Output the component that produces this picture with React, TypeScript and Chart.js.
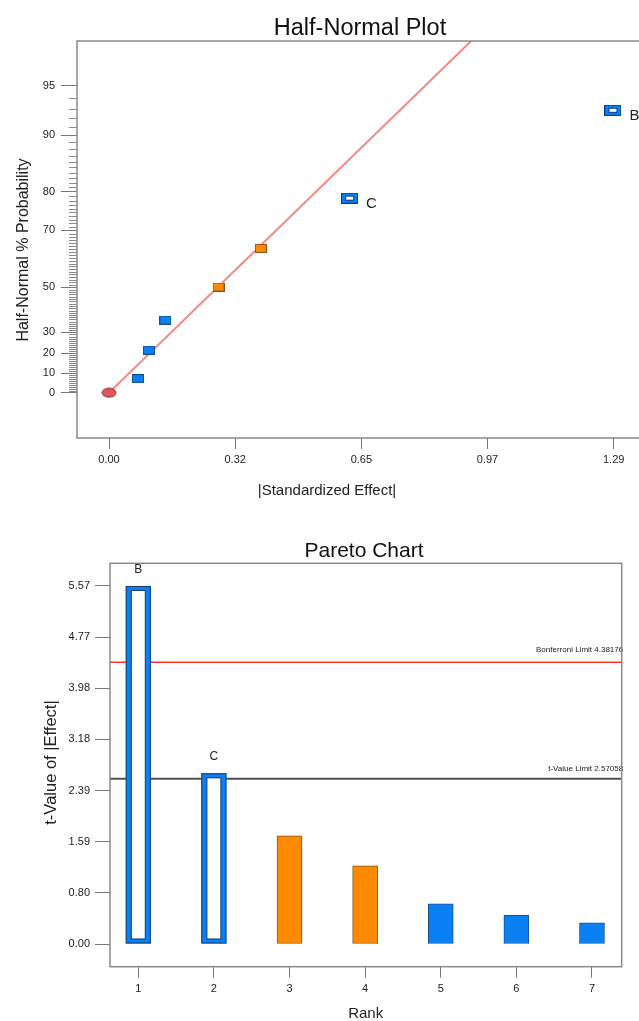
import React, { useEffect, useRef } from "react";
import { Chart, registerables } from "chart.js";

Chart.register(...registerables);

const FONT = '"Liberation Sans", Arial, Helvetica, sans-serif';

// ---------- Half-Normal plot data ----------
const EFFECTS = [0.074, 0.102, 0.144, 0.28, 0.388, 0.615, 1.288];
const PROBS = [7.14, 21.43, 35.71, 50.0, 64.29, 78.57, 92.86];
const EFFECT_TYPES = ["neg", "neg", "neg", "pos", "pos", "sel", "sel"];
const EFFECT_LABELS = ["", "", "", "", "", "C", "B"];
const ORIGIN_EFFECT = [0];
const ORIGIN_PROB = [0];
const FIT_LINE_X = [0, 0.95];
const FIT_LINE_Z = [0, 2.304];
const HN_X_TICKS = [0, 0.3225, 0.645, 0.9675, 1.29];
const HN_X_LABELS = ["0.00", "0.32", "0.65", "0.97", "1.29"];
const HN_Y_TICKS = [0, 10, 20, 30, 50, 70, 80, 90, 95];
const HN_Y_MINOR_MAX = 94;

// ---------- Pareto chart data ----------
const RANKS = [1, 2, 3, 4, 5, 6, 7];
const T_VALUES = [5.57, 2.655, 1.684, 1.218, 0.627, 0.446, 0.331];
const BAR_TYPES = ["sel", "sel", "pos", "pos", "neg", "neg", "neg"];
const BAR_LABELS = ["B", "C", "", "", "", "", ""];
const PARETO_Y_TICKS = [0, 0.7957, 1.5914, 2.3871, 3.1829, 3.9786, 4.7743, 5.57];
const PARETO_Y_LABELS = ["0.00", "0.80", "1.59", "2.39", "3.18", "3.98", "4.77", "5.57"];
const BONFERRONI = 4.38176;
const T_LIMIT = 2.57058;

const BLUE = "#0a80f5";
const BLUE_EDGE = "#1c4d8c";
const ORANGE = "#ff8a00";
const ORANGE_EDGE = "#8a5418";

function invNorm(p: number): number {
  const a = [-3.969683028665376e1, 2.209460984245205e2, -2.759285104469687e2, 1.38357751867269e2, -3.066479806614716e1, 2.506628277459239];
  const b = [-5.447609879822406e1, 1.615858368580409e2, -1.556989798598866e2, 6.680131188771972e1, -1.328068155288572e1];
  const c = [-7.784894002430293e-3, -3.223964580411365e-1, -2.400758277161838, -2.549732539343734, 4.374664141464968, 2.938163982698783];
  const d = [7.784695709041462e-3, 3.224671290700398e-1, 2.445134137142996, 3.754408661907416];
  const plow = 0.02425;
  if (p < plow) {
    const q = Math.sqrt(-2 * Math.log(p));
    return (((((c[0] * q + c[1]) * q + c[2]) * q + c[3]) * q + c[4]) * q + c[5]) / ((((d[0] * q + d[1]) * q + d[2]) * q + d[3]) * q + 1);
  }
  if (p <= 1 - plow) {
    const q = p - 0.5;
    const r = q * q;
    return ((((((a[0] * r + a[1]) * r + a[2]) * r + a[3]) * r + a[4]) * r + a[5]) * q) / (((((b[0] * r + b[1]) * r + b[2]) * r + b[3]) * r + b[4]) * r + 1);
  }
  const q = Math.sqrt(-2 * Math.log(1 - p));
  return -(((((c[0] * q + c[1]) * q + c[2]) * q + c[3]) * q + c[4]) * q + c[5]) / ((((d[0] * q + d[1]) * q + d[2]) * q + d[3]) * q + 1);
}
// half-normal probability axis transform (percent -> quantile)
const hnz = (pct: number) => invNorm(0.5 + pct / 200);

function makeMarker(kind: string): HTMLCanvasElement {
  const cv = document.createElement("canvas");
  const ctx = cv.getContext("2d")!;
  if (kind === "sel") {
    cv.width = 17;
    cv.height = 11;
    ctx.fillStyle = "#0b3f86";
    ctx.fillRect(0, 0, 17, 11);
    ctx.fillStyle = BLUE;
    ctx.fillRect(1, 1, 15, 9);
    ctx.fillStyle = "#0b3f86";
    ctx.fillRect(4, 3, 9, 5);
    ctx.fillStyle = "#ffffff";
    ctx.fillRect(5, 4, 7, 3);
  } else if (kind === "origin") {
    cv.width = 16;
    cv.height = 11;
    ctx.beginPath();
    ctx.ellipse(8, 5.5, 7, 4.5, 0, 0, Math.PI * 2);
    ctx.fillStyle = "#e05858";
    ctx.fill();
    ctx.strokeStyle = "#8c2a2a";
    ctx.lineWidth = 1;
    ctx.stroke();
  } else {
    cv.width = 12;
    cv.height = 9;
    ctx.fillStyle = kind === "pos" ? ORANGE_EDGE : BLUE_EDGE;
    ctx.fillRect(0, 0, 12, 9);
    ctx.fillStyle = kind === "pos" ? ORANGE : BLUE;
    ctx.fillRect(1, 1, 10, 7);
  }
  return cv;
}

const framePlugin = {
  id: "frame",
  afterDatasetsDraw(chart: any) {
    const { ctx, chartArea: a } = chart;
    ctx.save();
    ctx.strokeStyle = "#8a8a8a";
    ctx.lineWidth = 1.5;
    ctx.strokeRect(a.left, a.top, a.right - a.left, a.bottom - a.top);
    ctx.restore();
  },
};

function HalfNormal() {
  const ref = useRef<HTMLCanvasElement>(null);
  useEffect(() => {
    const markers: Record<string, HTMLCanvasElement> = {
      neg: makeMarker("neg"),
      pos: makeMarker("pos"),
      sel: makeMarker("sel"),
      origin: makeMarker("origin"),
    };
    const textPlugin = {
      id: "hnText",
      beforeDatasetsDraw(chart: any) {
        const { ctx, chartArea: a, scales } = chart;
        ctx.save();
        ctx.strokeStyle = "#8a8a8a";
        ctx.lineWidth = 1;
        for (let p = 1; p <= HN_Y_MINOR_MAX; p++) {
          if (HN_Y_TICKS.includes(p)) continue;
          const y = Math.round(scales.y.getPixelForValue(hnz(p))) + 0.5;
          ctx.beginPath();
          ctx.moveTo(a.left - 8, y);
          ctx.lineTo(a.left, y);
          ctx.stroke();
        }
        ctx.restore();
      },
      afterDraw(chart: any) {
        const { ctx } = chart;
        ctx.save();
        ctx.fillStyle = "#111";
        ctx.textAlign = "center";
        ctx.textBaseline = "alphabetic";
        ctx.font = `23.5px ${FONT}`;
        ctx.fillText("Half-Normal Plot", 360, 35);
        ctx.font = `15px ${FONT}`;
        ctx.fillStyle = "#222";
        ctx.fillText("|Standardized Effect|", 327, 495);
        ctx.save();
        ctx.translate(27.5, 250);
        ctx.rotate(-Math.PI / 2);
        ctx.font = `16px ${FONT}`;
        ctx.fillText("Half-Normal % Probability", 0, 0);
        ctx.restore();
        const meta = chart.getDatasetMeta(0);
        ctx.textAlign = "left";
        ctx.font = `15px ${FONT}`;
        meta.data.forEach((el: any, i: number) => {
          if (EFFECT_LABELS[i]) ctx.fillText(EFFECT_LABELS[i], el.x + 16.5, el.y + 10);
        });
        ctx.restore();
      },
    };
    const chart = new Chart(ref.current!, {
      type: "scatter",
      data: {
        datasets: [
          {
            data: EFFECTS.map((e, i) => ({ x: e, y: hnz(PROBS[i]) })),
            pointStyle: (ctx: any) => markers[EFFECT_TYPES[ctx.dataIndex]] as any,
            pointRadius: 5,
          } as any,
          {
            data: ORIGIN_EFFECT.map((e, i) => ({ x: e, y: hnz(ORIGIN_PROB[i]) })),
            pointStyle: markers.origin as any,
            pointRadius: 5,
          },
          {
            type: "line",
            data: FIT_LINE_X.map((x, i) => ({ x, y: FIT_LINE_Z[i] })),
            borderColor: "#f48888",
            borderWidth: 2,
            pointRadius: 0,
            showLine: true,
          } as any,
        ],
      },
      options: {
        animation: false,
        responsive: false,
        devicePixelRatio: 1,
        events: [],
        layout: { padding: { top: 41, right: 57, left: 0, bottom: 0 } },
        plugins: { legend: { display: false }, tooltip: { enabled: false }, title: { display: false } },
        scales: {
          x: {
            type: "linear",
            min: -0.0818,
            max: 1.365,
            afterBuildTicks: (s: any) => {
              s.ticks = HN_X_TICKS.map((v) => ({ value: v }));
            },
            afterFit: (s: any) => {
              s.height = 67;
            },
            ticks: {
              autoSkip: false,
              maxRotation: 0,
              padding: 4,
              color: "#222",
              font: { family: FONT, size: 11 },
              callback: (_v: any, i: number) => HN_X_LABELS[i],
            },
            grid: { drawOnChartArea: false, drawTicks: true, tickLength: 11, color: "#777" },
            border: { display: false },
          },
          y: {
            type: "linear",
            min: -0.289,
            max: 2.245,
            afterBuildTicks: (s: any) => {
              s.ticks = HN_Y_TICKS.map((p) => ({ value: hnz(p) }));
            },
            afterFit: (s: any) => {
              s.width = 77;
            },
            ticks: {
              autoSkip: false,
              padding: 6,
              color: "#222",
              font: { family: FONT, size: 11 },
              callback: (_v: any, i: number) => String(HN_Y_TICKS[i]),
            },
            grid: { drawOnChartArea: false, drawTicks: true, tickLength: 16, color: "#777" },
            border: { display: false },
          },
        },
      } as any,
      plugins: [framePlugin, textPlugin],
    });
    return () => chart.destroy();
  }, []);
  return <canvas ref={ref} width={700} height={505} style={{ position: "absolute", left: 0, top: 0, width: 700, height: 505 }} />;
}

function Pareto() {
  const ref = useRef<HTMLCanvasElement>(null);
  useEffect(() => {
    const paretoPlugin = {
      id: "paretoText",
      beforeDatasetsDraw(chart: any) {
        const { ctx, chartArea: a, scales } = chart;
        ctx.save();
        const yb = scales.y.getPixelForValue(BONFERRONI);
        ctx.strokeStyle = "#ff3030";
        ctx.lineWidth = 1.5;
        ctx.beginPath();
        ctx.moveTo(a.left, yb);
        ctx.lineTo(a.right, yb);
        ctx.stroke();
        const yt = scales.y.getPixelForValue(T_LIMIT);
        ctx.strokeStyle = "#505050";
        ctx.lineWidth = 2;
        ctx.beginPath();
        ctx.moveTo(a.left, yt);
        ctx.lineTo(a.right, yt);
        ctx.stroke();
        ctx.fillStyle = "#222";
        ctx.font = `8px ${FONT}`;
        ctx.textAlign = "right";
        ctx.textBaseline = "alphabetic";
        ctx.fillText(`Bonferroni Limit ${BONFERRONI}`, a.right + 1.5, yb - 10.5);
        ctx.fillText(`t-Value Limit ${T_LIMIT}`, a.right + 1.5, yt - 8);
        ctx.restore();
      },
      afterDatasetsDraw(chart: any) {
        const { ctx } = chart;
        const meta = chart.getDatasetMeta(0);
        ctx.save();
        ctx.strokeStyle = "#1a3f70";
        ctx.lineWidth = 1;
        meta.data.forEach((el: any, i: number) => {
          if (BAR_TYPES[i] !== "sel") return;
          const w = el.width;
          const l = el.x - w / 2;
          const h = el.base - el.y;
          ctx.strokeRect(l + 0.5, el.y + 0.5, w - 1, h - 1);
          ctx.strokeRect(l + 6 - 0.5, el.y + 5 - 0.5, w - 12 + 1, h - 10 + 1);
        });
        ctx.restore();
      },
      afterDraw(chart: any) {
        const { ctx } = chart;
        ctx.save();
        ctx.fillStyle = "#111";
        ctx.textAlign = "center";
        ctx.textBaseline = "alphabetic";
        ctx.font = `21px ${FONT}`;
        ctx.fillText("Pareto Chart", 364, 52.3);
        ctx.fillStyle = "#222";
        ctx.font = `15px ${FONT}`;
        ctx.fillText("Rank", 365.7, 513);
        ctx.save();
        ctx.translate(56, 257.5);
        ctx.rotate(-Math.PI / 2);
        ctx.font = `16.5px ${FONT}`;
        ctx.fillText("t-Value of |Effect|", 0, 0);
        ctx.restore();
        const meta = chart.getDatasetMeta(0);
        ctx.font = `12px ${FONT}`;
        meta.data.forEach((el: any, i: number) => {
          if (BAR_LABELS[i]) ctx.fillText(BAR_LABELS[i], el.x, el.y - 13);
        });
        ctx.restore();
      },
    };
    const chart = new Chart(ref.current!, {
      type: "bar",
      data: {
        datasets: [
          {
            data: RANKS.map((r, i) => ({ x: r, y: T_VALUES[i] })),
            barThickness: 25,
            backgroundColor: (c: any) => {
              const t = BAR_TYPES[c.dataIndex];
              return t === "sel" ? "#ffffff" : t === "pos" ? ORANGE : BLUE;
            },
            borderColor: (c: any) => {
              const t = BAR_TYPES[c.dataIndex];
              return t === "sel" ? BLUE : t === "pos" ? ORANGE_EDGE : BLUE_EDGE;
            },
            borderWidth: (c: any) =>
              BAR_TYPES[c.dataIndex] === "sel" ? { top: 5, bottom: 5, left: 6, right: 6 } : 1,
            borderSkipped: false,
          } as any,
        ],
      },
      options: {
        animation: false,
        responsive: false,
        devicePixelRatio: 1,
        events: [],
        layout: { padding: { top: 58.3, right: 17.3, left: 0, bottom: 0 } },
        plugins: { legend: { display: false }, tooltip: { enabled: false }, title: { display: false } },
        scales: {
          x: {
            type: "linear",
            offset: false,
            min: 0.626,
            max: 7.393,
            afterBuildTicks: (s: any) => {
              s.ticks = RANKS.map((v) => ({ value: v }));
            },
            afterFit: (s: any) => {
              s.height = 54.3;
            },
            ticks: {
              autoSkip: false,
              maxRotation: 0,
              padding: 5,
              color: "#222",
              font: { family: FONT, size: 11 },
              callback: (v: any) => String(v),
            },
            grid: { offset: false, drawOnChartArea: false, drawTicks: true, tickLength: 11, color: "#777" },
            border: { display: false },
          },
          y: {
            type: "linear",
            min: -0.353,
            max: 5.923,
            afterBuildTicks: (s: any) => {
              s.ticks = PARETO_Y_TICKS.map((v) => ({ value: v }));
            },
            afterFit: (s: any) => {
              s.width = 110;
            },
            ticks: {
              autoSkip: false,
              padding: 5,
              color: "#222",
              font: { family: FONT, size: 11 },
              callback: (_v: any, i: number) => PARETO_Y_LABELS[i],
            },
            grid: { drawOnChartArea: false, drawTicks: true, tickLength: 15, color: "#777" },
            border: { display: false },
          },
        },
      } as any,
      plugins: [framePlugin, paretoPlugin],
    });
    return () => chart.destroy();
  }, []);
  return <canvas ref={ref} width={639} height={516} style={{ position: "absolute", left: 0, top: 505, width: 639, height: 516 }} />;
}

export default function App() {
  return (
    <div style={{ position: "fixed", left: 0, top: 0, width: 639, height: 1021, overflow: "hidden", background: "#fff" }}>
      <HalfNormal />
      <Pareto />
    </div>
  );
}
